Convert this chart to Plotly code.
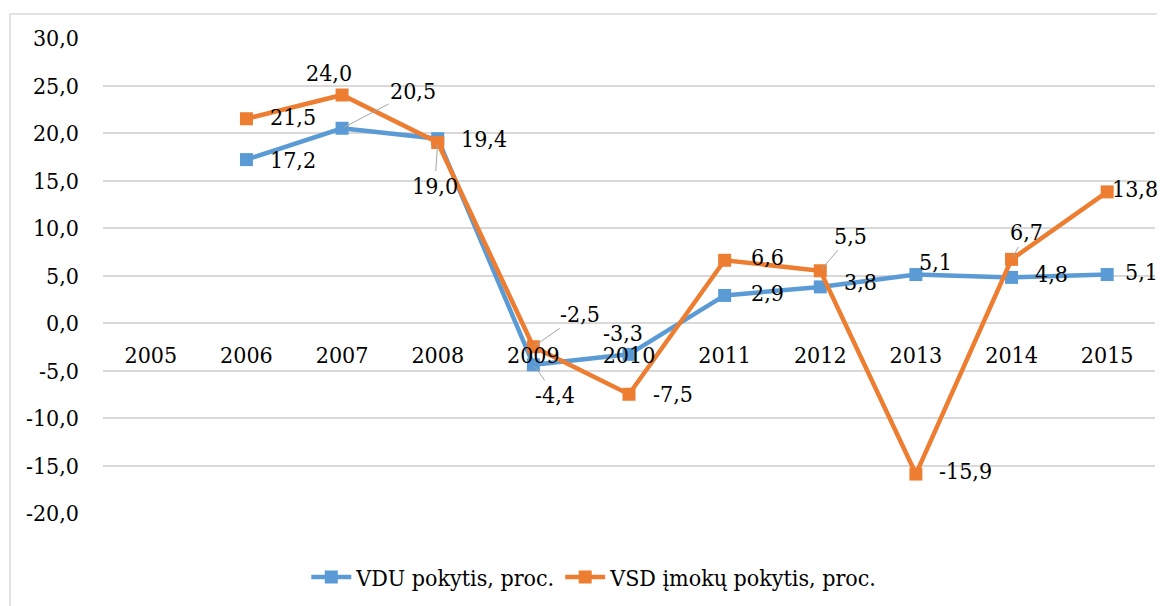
import plotly.graph_objects as go

years = ["2005", "2006", "2007", "2008", "2009", "2010", "2011", "2012", "2013", "2014", "2015"]
vdu = [None, 17.2, 20.5, 19.4, -4.4, -3.3, 2.9, 3.8, 5.1, 4.8, 5.1]
vsd = [None, 21.5, 24.0, 19.0, -2.5, -7.5, 6.6, 5.5, -15.9, 6.7, 13.8]
y_ticks = [-20, -15, -10, -5, 0, 5, 10, 15, 20, 25, 30]
y_tick_labels = ["-20,0", "-15,0", "-10,0", "-5,0", "0,0", "5,0", "10,0",
                 "15,0", "20,0", "25,0", "30,0"]

BLUE = "#5B9BD5"
ORANGE = "#ED7D31"
FONT = "DejaVu Serif Condensed, DejaVu Serif"
FS = 23

fig = go.Figure()
fig.add_trace(go.Scatter(x=years, y=vdu, name="VDU pokytis, proc.", mode="lines+markers",
                         line=dict(color=BLUE, width=4.5),
                         marker=dict(symbol="square", size=13, color=BLUE)))
fig.add_trace(go.Scatter(x=years, y=vsd, name="VSD įmokų pokytis, proc.", mode="lines+markers",
                         line=dict(color=ORANGE, width=4.5),
                         marker=dict(symbol="square", size=13, color=ORANGE)))

# label offsets in pixels (dx, dy) and whether a leader line is drawn
vdu_off = [None, (47, 0, False), (71, -37, True), (46, 0, False), (22, 30, True),
           (-6, -21, False), (43, -2, False), (40, -5, False), (20, -13, False),
           (40, -3, False), (34, -3, False)]
vsd_off = [None, (47, -2, False), (-13, -22, False), (-3, 43, True), (47, -33, True),
           (44, 0, False), (43, -3, False), (30, -35, True), (50, -3, False),
           (15, -27, True), (28, -3, False)]

annotations = []
for ys, offs in ((vdu, vdu_off), (vsd, vsd_off)):
    for i, (y, o) in enumerate(zip(ys, offs)):
        if y is None:
            continue
        dx, dy, lead = o
        txt = f"{y:.1f}".replace(".", ",")
        if lead:
            annotations.append(dict(x=i, y=y, xref="x", yref="y", text=txt, showarrow=True,
                                    arrowhead=0, arrowcolor="#a6a6a6", arrowwidth=1,
                                    ax=dx, ay=dy, standoff=2,
                                    font=dict(size=FS, color="black", family=FONT)))
        else:
            annotations.append(dict(x=i, y=y, xref="x", yref="y", text=txt, showarrow=False,
                                    xshift=dx, yshift=-dy,
                                    font=dict(size=FS, color="black", family=FONT)))

# page body has an 8px margin, so the figure is a bit smaller than the window
fig.update_layout(
    width=1157, height=598,
    margin=dict(l=95, r=10, t=30, b=93, autoexpand=False),
    paper_bgcolor="white", plot_bgcolor="white",
    font=dict(family=FONT, size=FS, color="black"),
    showlegend=True,
    legend=dict(orientation="h", x=0.467, xanchor="center", y=-0.135, yanchor="middle",
                font=dict(size=FS, family=FONT), itemwidth=40),
    xaxis=dict(type="category", anchor="free", position=0.4, showgrid=False,
               showline=False, ticks="", ticklabelstandoff=16, zeroline=False,
               range=[-0.5, 10.5], tickfont=dict(family=FONT, size=FS)),
    yaxis=dict(range=[-20, 30], tickvals=y_ticks, ticktext=y_tick_labels,
               showgrid=True, gridcolor="#d9d9d9", gridwidth=1.5, zeroline=False,
               ticks="", ticklabelstandoff=23, showline=False,
               tickfont=dict(family=FONT, size=FS)),
    annotations=annotations,
    shapes=[dict(type="rect", xref="paper", yref="paper", x0=-0.0884, x1=1.02,
                 y0=-0.21, y1=1.0505, line=dict(color="#d9d9d9", width=1.5), layer="below")],
)

fig.write_html("out.html")
